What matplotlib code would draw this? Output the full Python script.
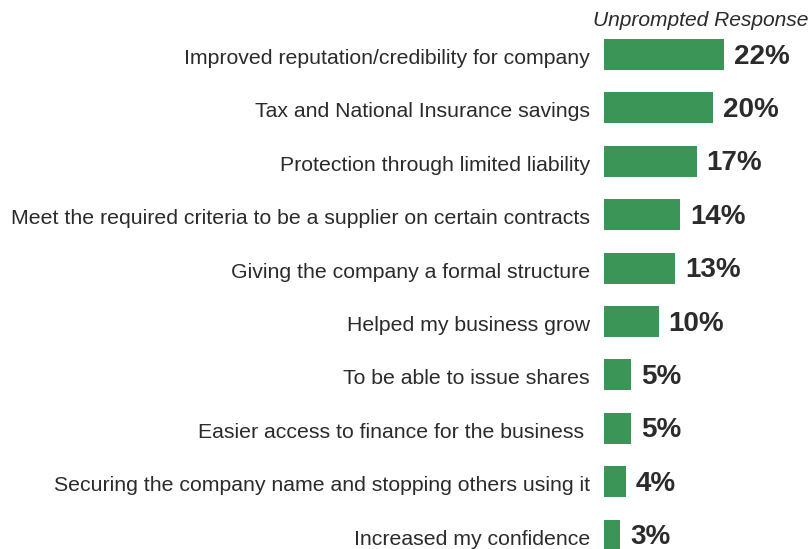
import matplotlib
matplotlib.use("Agg")
import matplotlib.pyplot as plt

categories = [
    "Improved reputation/credibility for company",
    "Tax and National Insurance savings",
    "Protection through limited liability",
    "Meet the required criteria to be a supplier on certain contracts",
    "Giving the company a formal structure",
    "Helped my business grow",
    "To be able to issue shares",
    "Easier access to finance for the business",
    "Securing the company name and stopping others using it",
    "Increased my confidence",
]
values = [22, 20, 17, 14, 13, 10, 5, 5, 4, 3]
title = "Unprompted Response"

plt.rcParams["font.family"] = ["Liberation Sans", "DejaVu Sans"]
GREEN = "#3a9557"
TEXT = "#2b2b2b"

fig = plt.figure(figsize=(8.09, 5.49), dpi=100)
ax = fig.add_axes([604 / 809, 0, 1 - 604 / 809, 1])
ax.set_axis_off()

pos = list(range(len(values)))
ax.barh(pos, values, height=0.58, color=GREEN, align="center")
ax.set_xlim(0, 205 / 5.45)
ax.set_ylim((549 - 54.5) / 53.4, -54.5 / 53.4)

for i, (cat, v) in enumerate(zip(categories, values)):
    dx = -20 if cat.startswith("Easier") else -14
    ax.annotate(cat, xy=(0, i), xytext=(dx, -4), textcoords="offset pixels",
                ha="right", va="center", fontsize=15.3, color=TEXT,
                annotation_clip=False)
    ax.annotate(f"{v}%", xy=(v, i), xytext=(10, -2), textcoords="offset pixels",
                ha="left", va="center", fontsize=20, fontweight="bold",
                color=TEXT, annotation_clip=False)

fig.text(808 / 809, 1 - 20 / 549, title, ha="right", va="center",
         fontsize=15.1, style="italic", color=TEXT)

fig.savefig("out.png", dpi=100)
